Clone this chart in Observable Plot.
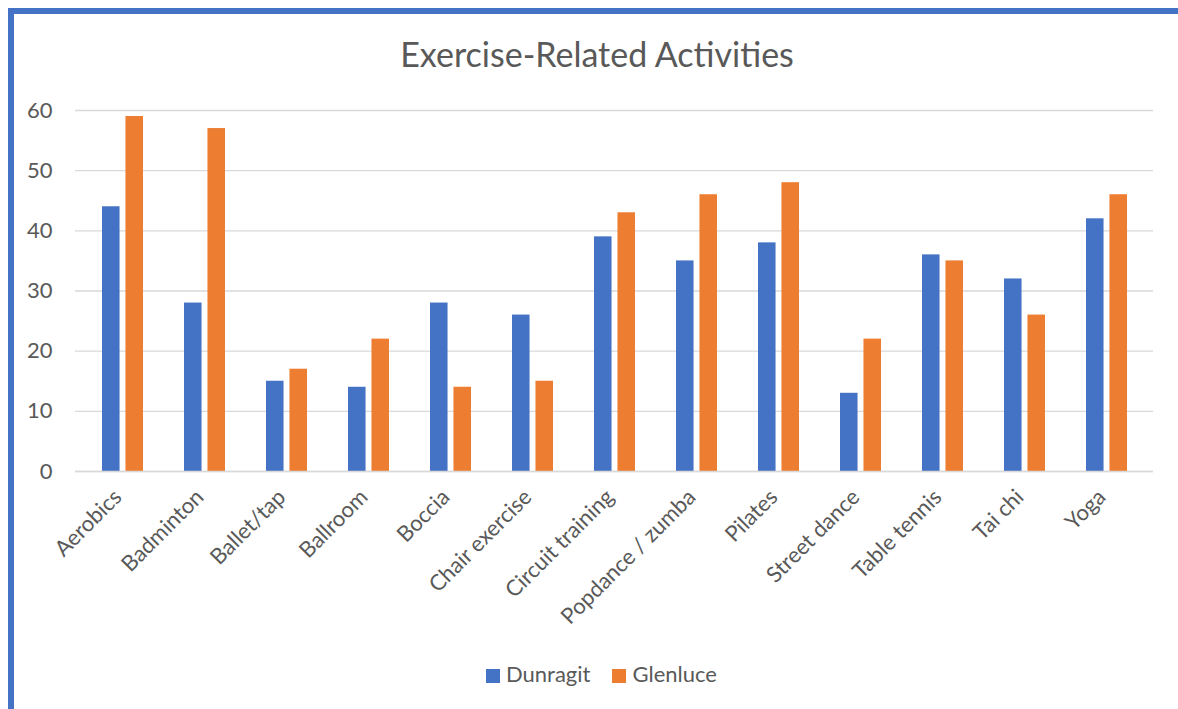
<!DOCTYPE html>
<html>
<head>
<meta charset="utf-8">
<script src="https://cdn.jsdelivr.net/npm/d3@7"></script>
<script src="https://cdn.jsdelivr.net/npm/@observablehq/plot@0.6"></script>
<style>
  html, body { margin: 0; padding: 0; background: #fff; }
  #wrap { position: relative; width: 1178px; height: 709px; overflow: hidden; font-family: Lato, sans-serif; color: #595959; }
  #frame { position: absolute; left: 8px; top: 8px; width: 1200px; height: 760px; border-left: 6px solid #4472C4; border-top: 6px solid #4472C4; box-sizing: border-box; }
  #title { position: absolute; top: 34px; left: 0; width: 1194px; text-align: center; font-size: 34px; line-height: 1.2; white-space: nowrap; }
  #chart { position: absolute; left: 0; top: 0; }
  #legend { position: absolute; top: 661px; left: 486px; font-size: 22px; line-height: 1.2; white-space: nowrap; display: flex; align-items: flex-start; }
  .item { display: flex; align-items: flex-start; margin-right: 22px; }
  .sw { width: 14px; height: 14px; margin-top: 8px; margin-right: 6px; }
</style>
</head>
<body>
<div id="wrap">
  <div id="frame"></div>
  <div id="chart"></div>
  <div id="title">Exercise-Related Activities</div>
  <div id="legend"></div>
</div>
<script>
const categories = ["Aerobics", "Badminton", "Ballet/tap", "Ballroom", "Boccia", "Chair exercise", "Circuit training", "Popdance / zumba", "Pilates", "Street dance", "Table tennis", "Tai chi", "Yoga"];
const dunragit = [44, 28, 15, 14, 28, 26, 39, 35, 38, 13, 36, 32, 42];
const glenluce = [59, 57, 17, 22, 14, 15, 43, 46, 48, 22, 35, 26, 46];
const seriesNames = ["Dunragit", "Glenluce"];
const seriesColors = ["#4472C4", "#ED7D31"];
const yTicks = [0, 10, 20, 30, 40, 50, 60];

const rows = [];
categories.forEach((c, i) => {
  rows.push({category: c, series: seriesNames[0], value: dunragit[i]});
  rows.push({category: c, series: seriesNames[1], value: glenluce[i]});
});

const W = 1178, H = 709;
const mL = 75, mR = 25;
const n = categories.length;
const pIn = 0.5, pOut = 0.25;
const step = (W - mL - mR) / (n - pIn + 2 * pOut);
const bw = step * (1 - pIn);
const barW = 18;
const inset = bw - barW;

const chart = Plot.plot({
  width: W,
  height: H,
  marginLeft: mL,
  marginRight: mR,
  marginTop: 110,
  marginBottom: 238,
  style: {fontFamily: "Lato, sans-serif", fontSize: "22px", color: "#595959", background: "transparent"},
  x: {domain: categories, paddingInner: pIn, paddingOuter: pOut, label: null},
  y: {domain: [0, 60], label: null},
  marks: [
    Plot.gridY(yTicks, {stroke: "#d9d9d9", strokeOpacity: 1, strokeWidth: 1.3}),
    Plot.barY(rows.filter(d => d.series === seriesNames[0]), {x: "category", y: "value", fill: seriesColors[0], insetRight: inset}),
    Plot.barY(rows.filter(d => d.series === seriesNames[1]), {x: "category", y: "value", fill: seriesColors[1], insetLeft: inset}),
    Plot.ruleY([0], {stroke: "#d9d9d9", strokeWidth: 1.5}),
    Plot.axisY(yTicks, {tickSize: 0, tickPadding: 23, label: null, fill: "#595959"}),
    Plot.axisX({tickRotate: -45, tickSize: 0, tickPadding: 22, dx: -5, label: null, fill: "#595959"})
  ]
});
document.getElementById("chart").appendChild(chart);

const legend = document.getElementById("legend");
seriesNames.forEach((s, i) => {
  const item = document.createElement("div");
  item.className = "item";
  const sw = document.createElement("div");
  sw.className = "sw";
  sw.style.background = seriesColors[i];
  const t = document.createElement("span");
  t.textContent = s;
  item.appendChild(sw);
  item.appendChild(t);
  legend.appendChild(item);
});
</script>
</body>
</html>
